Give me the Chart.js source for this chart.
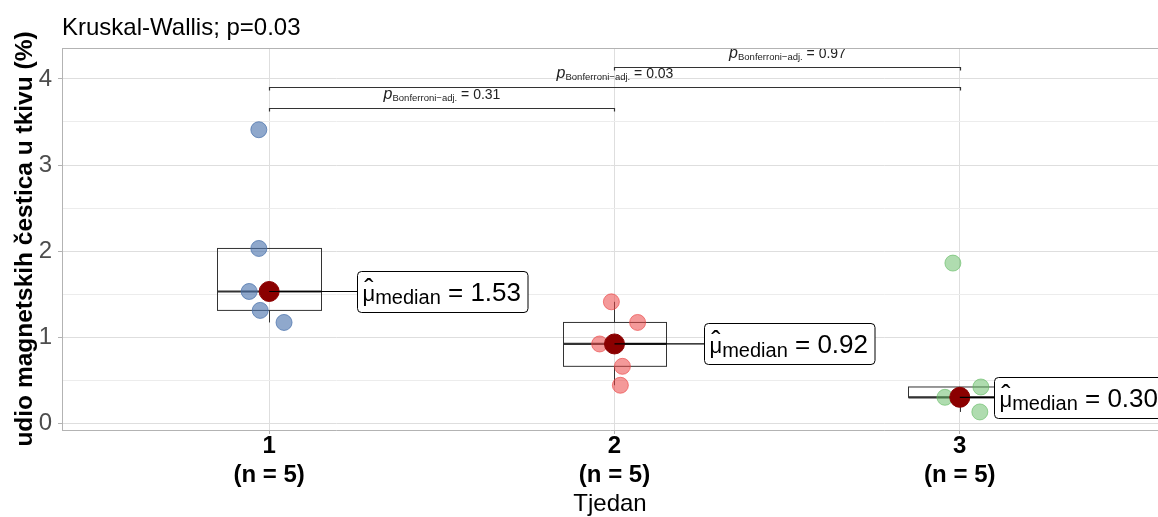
<!DOCTYPE html>
<html>
<head>
<meta charset="utf-8">
<script src="https://cdn.jsdelivr.net/npm/chart.js@4.4.1/dist/chart.umd.min.js"></script>
<style>
  html, body { margin: 0; padding: 0; background: #fff; }
  #wrap { width: 1158px; height: 517px; }
</style>
</head>
<body>
<div id="wrap"><canvas id="chart" width="1158" height="517"></canvas></div>
<script>
// Tjedan (week) groups and sample sizes
const groups = [1, 2, 3];
const groupN = [5, 5, 5];

// udio magnetskih čestica (%) per week
const week1Values = [3.41, 2.03, 1.53, 1.31, 1.17];
const week2Values = [1.41, 1.17, 0.92, 0.66, 0.44];
const week3Values = [1.86, 0.42, 0.30, 0.30, 0.13];

// horizontal jitter of each point
const week1Jitter = [-0.03, -0.03, -0.058, -0.026, 0.043];
const week2Jitter = [-0.009, 0.067, -0.043, 0.023, 0.017];
const week3Jitter = [-0.02, 0.061, -0.043, 0.005, 0.058];

// pairwise comparisons (Bonferroni adjusted)
const pairs = [[1, 2], [1, 3], [2, 3]];
const pairPValues = ['0.31', '0.03', '0.97'];
const pairHeights = [3.66, 3.91, 4.14];

const kruskalP = '0.03';
const yTickValues = [0, 0.5, 1, 1.5, 2, 2.5, 3, 3.5, 4];

const FONT = '"Liberation Sans", Arial, sans-serif';
const allValues = [week1Values, week2Values, week3Values];
const allJitter = [week1Jitter, week2Jitter, week3Jitter];
const pointFill = ['rgba(75,115,172,0.62)', 'rgba(235,70,70,0.55)', 'rgba(95,185,95,0.5)'];
const pointEdge = ['rgba(75,115,172,0.75)', 'rgba(235,70,70,0.65)', 'rgba(95,185,95,0.6)'];
// where the median label sits, relative to the group (x units)
const labelShift = [0.255, 0.258, 0.10];

function quantile(sorted, p) {
    const h = (sorted.length - 1) * p;
    const lo = Math.floor(h);
    const hi = Math.min(lo + 1, sorted.length - 1);
    return sorted[lo] + (h - lo) * (sorted[hi] - sorted[lo]);
}

function boxStats(values) {
    const s = [...values].sort((a, b) => a - b);
    const q1 = quantile(s, 0.25), med = quantile(s, 0.5), q3 = quantile(s, 0.75);
    const iqr = q3 - q1;
    const lowIn = s.filter(v => v >= q1 - 1.5 * iqr);
    const highIn = s.filter(v => v <= q3 + 1.5 * iqr);
    return { q1, med, q3, lo: Math.min(...lowIn), hi: Math.max(...highIn) };
}

const stats = allValues.map(boxStats);

const boxPlugin = {
    id: 'boxes',
    beforeDatasetsDraw(chart) {
        const { ctx, scales: { x, y } } = chart;
        ctx.save();
        ctx.strokeStyle = '#333';
        stats.forEach((s, i) => {
            const g = groups[i];
            const x0 = Math.round(x.getPixelForValue(g - 0.15)) + 0.5;
            const x1 = Math.round(x.getPixelForValue(g + 0.15)) + 0.5;
            const xc = Math.round(x.getPixelForValue(g)) + 0.5;
            const yq1 = y.getPixelForValue(s.q1), yq3 = y.getPixelForValue(s.q3);
            ctx.lineWidth = 1;
            ctx.beginPath();
            ctx.moveTo(xc, yq3); ctx.lineTo(xc, y.getPixelForValue(s.hi));
            ctx.moveTo(xc, yq1); ctx.lineTo(xc, y.getPixelForValue(s.lo));
            ctx.stroke();
            ctx.strokeRect(x0, yq3, x1 - x0, yq1 - yq3);
            ctx.lineWidth = 2.2;
            ctx.beginPath();
            const ym = y.getPixelForValue(s.med);
            ctx.moveTo(x0, ym); ctx.lineTo(x1, ym);
            ctx.stroke();
        });
        ctx.restore();
    }
};

function drawParts(ctx, parts, xStart, baseline) {
    let xx = xStart;
    parts.forEach(p => {
        ctx.font = p.font;
        ctx.fillText(p.t, xx, baseline + (p.dy || 0));
        xx += p.w;
    });
}

function measureParts(ctx, parts) {
    let w = 0;
    parts.forEach(p => { ctx.font = p.font; p.w = ctx.measureText(p.t).width; w += p.w; });
    return w;
}

const annotationPlugin = {
    id: 'annotations',
    afterDatasetsDraw(chart) {
        const { ctx, chartArea, scales: { x, y } } = chart;
        ctx.save();

        // median connectors and labels
        stats.forEach((s, i) => {
            const g = groups[i];
            const xc = x.getPixelForValue(g);
            const ym = y.getPixelForValue(s.med);
            const xl = Math.round(x.getPixelForValue(g + labelShift[i])) + 0.5;
            ctx.strokeStyle = '#000';
            ctx.lineWidth = 1.2;
            ctx.beginPath();
            ctx.moveTo(xc, ym); ctx.lineTo(xl, ym);
            ctx.stroke();

            const parts = [
                { t: '\u03bc', font: '22px ' + FONT },
                { t: 'median', font: '20px ' + FONT, dy: 3.5 },
                { t: ' = ' + s.med.toFixed(2), font: '26px ' + FONT }
            ];
            const w = measureParts(ctx, parts) + 12;
            const h = 41;
            const top = Math.round(ym - h / 2) + 0.5;
            ctx.beginPath();
            ctx.roundRect(xl, top, w, h, 4);
            ctx.fillStyle = '#fff';
            ctx.fill();
            ctx.lineWidth = 1;
            ctx.strokeStyle = '#000';
            ctx.stroke();
            ctx.fillStyle = '#000';
            ctx.textBaseline = 'alphabetic';
            ctx.textAlign = 'left';
            const baseline = ym + 9.5;
            drawParts(ctx, parts, xl + 5, baseline);
            // hat over mu
            ctx.font = '28px ' + FONT;
            ctx.textAlign = 'center';
            ctx.fillText('\u02c6', xl + 5 + parts[0].w / 2, baseline - 3);
            ctx.textAlign = 'left';
        });

        // significance brackets
        pairs.forEach((pr, i) => {
            const xa = Math.round(x.getPixelForValue(pr[0])) + 0.5;
            const xb = Math.round(x.getPixelForValue(pr[1])) + 0.5;
            const yb = Math.round(y.getPixelForValue(pairHeights[i])) + 0.5;
            ctx.strokeStyle = '#333';
            ctx.lineWidth = 1.2;
            ctx.beginPath();
            ctx.moveTo(xa, yb + 3); ctx.lineTo(xa, yb); ctx.lineTo(xb, yb); ctx.lineTo(xb, yb + 3);
            ctx.stroke();

            const parts = [
                { t: 'p', font: 'italic 16px ' + FONT },
                { t: 'Bonferroni\u2212adj.', font: '9.5px ' + FONT, dy: 2.5 },
                { t: ' = ' + pairPValues[i], font: '14px ' + FONT }
            ];
            const w = measureParts(ctx, parts);
            ctx.fillStyle = '#222';
            drawParts(ctx, parts, (xa + xb) / 2 - w / 2, yb - 10);
        });

        // panel top border
        ctx.strokeStyle = '#b3b3b3';
        ctx.lineWidth = 1;
        ctx.beginPath();
        ctx.moveTo(chartArea.left, chartArea.top + 0.5);
        ctx.lineTo(chartArea.right, chartArea.top + 0.5);
        ctx.stroke();

        // plot title
        ctx.fillStyle = '#000';
        ctx.font = '24px ' + FONT;
        ctx.fillText('Kruskal-Wallis; p=' + kruskalP, chartArea.left, 35);
        ctx.restore();
    }
};

const datasets = allValues.map((vals, i) => ({
    label: 'Tjedan ' + groups[i],
    data: vals.map((v, j) => ({ x: groups[i] + allJitter[i][j], y: v })),
    backgroundColor: pointFill[i],
    borderColor: pointEdge[i],
    borderWidth: 1,
    pointRadius: 8,
    order: 1
}));

datasets.push({
    label: 'median',
    data: stats.map((s, i) => ({ x: groups[i], y: s.med })),
    backgroundColor: '#8b0000',
    borderColor: '#8b0000',
    borderWidth: 1,
    pointRadius: 10,
    order: 0
});

const isMajor = v => Math.abs(v - Math.round(v)) < 1e-9;

new Chart(document.getElementById('chart').getContext('2d'), {
    type: 'scatter',
    data: { datasets },
    options: {
        responsive: false,
        animation: false,
        devicePixelRatio: 1,
        layout: { autoPadding: false, padding: { top: 48, left: 0, right: 0, bottom: 0 } },
        plugins: {
            legend: { display: false },
            tooltip: { enabled: false }
        },
        scales: {
            x: {
                type: 'linear',
                min: 0.4,
                max: 3.574,
                afterFit(scale) {
                    scale.height = 87;
                    scale.paddingLeft = 0;
                    scale.paddingRight = 0;
                },
                afterBuildTicks(scale) { scale.ticks = groups.map(v => ({ value: v })); },
                grid: { color: '#dedede', tickColor: '#b3b3b3', tickLength: 4 },
                border: { color: '#b3b3b3' },
                ticks: {
                    font: { family: FONT, size: 24, weight: 'bold' },
                    color: '#000',
                    padding: -2,
                    maxRotation: 0,
                    autoSkip: false,
                    callback: (v) => [String(v), '(n = ' + groupN[groups.indexOf(v)] + ')']
                },
                title: {
                    display: true,
                    text: 'Tjedan',
                    font: { family: FONT, size: 24 },
                    color: '#000',
                    padding: { top: 0, bottom: -2 }
                }
            },
            y: {
                min: -0.08,
                max: 4.36,
                afterFit(scale) {
                    scale.width = 62;
                    scale.paddingTop = 0;
                    scale.paddingBottom = 0;
                },
                afterBuildTicks(scale) { scale.ticks = yTickValues.map(v => ({ value: v })); },
                grid: {
                    color: c => (c.tick && isMajor(c.tick.value)) ? '#dedede' : '#ececec',
                    tickColor: c => (c.tick && isMajor(c.tick.value)) ? '#b3b3b3' : 'rgba(0,0,0,0)',
                    tickLength: 4
                },
                border: { color: '#b3b3b3' },
                ticks: {
                    font: { family: FONT, size: 24 },
                    color: '#4d4d4d',
                    padding: 6,
                    callback: v => isMajor(v) ? String(v) : ''
                },
                title: {
                    display: true,
                    text: 'udio magnetskih čestica u tkivu (%)',
                    font: { family: FONT, size: 24.5, weight: 'bold' },
                    color: '#000',
                    padding: { top: 11, bottom: 0 }
                }
            }
        }
    },
    plugins: [boxPlugin, annotationPlugin]
});
</script>
</body>
</html>
